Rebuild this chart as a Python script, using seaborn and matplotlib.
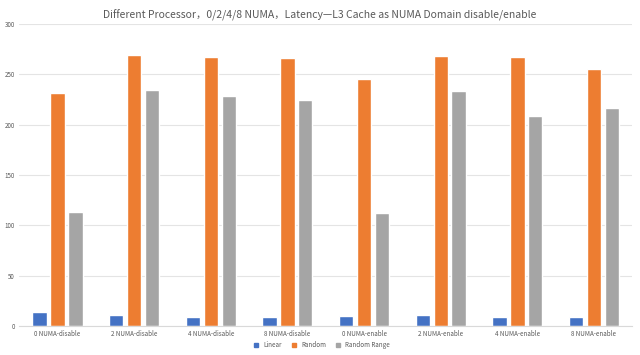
import pandas as pd
import numpy as np
import matplotlib
matplotlib.use("Agg")
import matplotlib.pyplot as plt
import seaborn as sns

categories = ["0 NUMA-disable", "2 NUMA-disable", "4 NUMA-disable", "8 NUMA-disable",
              "0 NUMA-enable", "2 NUMA-enable", "4 NUMA-enable", "8 NUMA-enable"]
linear = [14, 11, 9, 9, 10, 11, 9, 9]
random_ = [232, 269, 267, 266, 245, 268, 267, 255]
random_range = [113, 235, 229, 225, 112, 234, 209, 217]
series = ["Linear", "Random", "Random Range"]
colors = ["#4472C4", "#ED7D31", "#A5A5A5"]

df = pd.DataFrame({"cat": categories * 3,
                   "series": np.repeat(series, len(categories)),
                   "value": linear + random_ + random_range})

sns.set_style("white")
plt.rcParams["font.family"] = ["Noto Sans CJK SC", "DejaVu Sans"]

fig = plt.figure(figsize=(6.4, 3.55), dpi=100)
ax = fig.add_axes([0.03, 0.082, 0.958, 0.85])
sns.barplot(data=df, x="cat", y="value", hue="series", palette=colors,
            width=0.7, gap=0.2, ax=ax, saturation=1, legend=False)

ax.set_ylim(0, 300)
ax.set_yticks(range(0, 301, 50))
ax.grid(axis="y", color="#E4E4E4", linewidth=0.8)
ax.set_axisbelow(True)
for s in ["top", "right", "left"]:
    ax.spines[s].set_visible(False)
ax.spines["bottom"].set_color("#D9D9D9")
ax.tick_params(axis="both", length=0, labelsize=4.5, labelcolor="#595959", pad=3)
ax.set_xlabel("")
ax.set_ylabel("")

handles = [plt.Line2D([], [], marker="s", linestyle="", color=c, markersize=3) for c in colors]
fig.legend(handles, series, loc="center", bbox_to_anchor=(0.5, 0.028), ncol=3,
           frameon=False, fontsize=4.5, handletextpad=0.1, columnspacing=1.0,
           labelcolor="#595959")

fig.suptitle("Different Processor，0/2/4/8 NUMA，Latency—L3 Cache as NUMA Domain disable/enable",
             y=0.972, fontsize=7.5, color="#595959")

fig.savefig("out.png", dpi=100)
